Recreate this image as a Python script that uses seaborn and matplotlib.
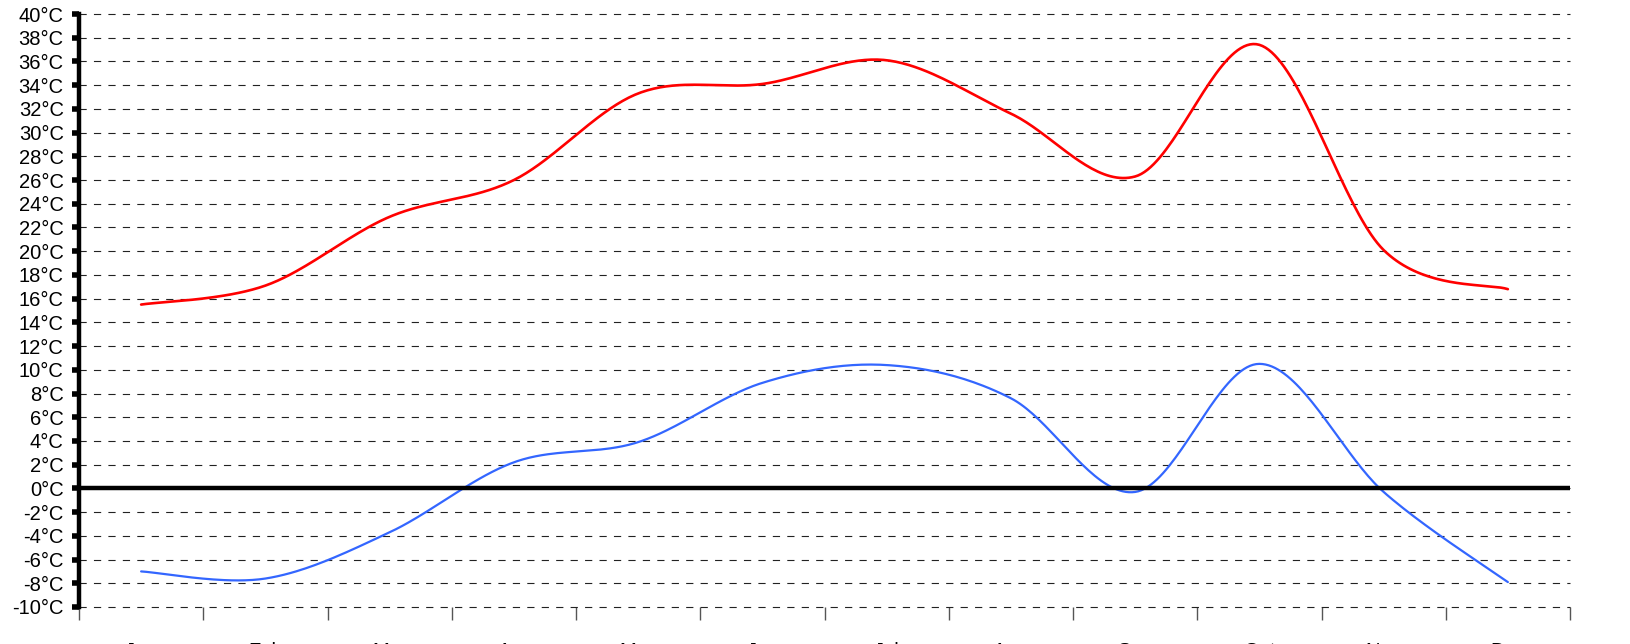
import numpy as np
import pandas as pd
import matplotlib
matplotlib.use("Agg")
import matplotlib.pyplot as plt
import seaborn as sns

# monthly values
months = ["Jan", "Feb", "Mar", "Apr", "May", "Jun",
          "Jul", "Aug", "Sep", "Oct", "Nov", "Dec"]
t_max = [15.5, 17.1, 22.9, 26.0, 33.3, 34.1, 36.1, 31.6, 26.3, 37.4, 20.1, 16.8]
t_min = [-7.0, -7.6, -3.7, 2.2, 3.9, 8.9, 10.4, 7.6, -0.3, 10.5, -0.3, -7.9]
y_ticks = list(range(-10, 41, 2))


def smooth(vals, n=40):
    # Excel-style smoothed line (Catmull-Rom between the points)
    p = np.array(vals, dtype=float)
    x = np.arange(len(p), dtype=float)
    px = np.concatenate([[x[0]], x, [x[-1]]])
    py = np.concatenate([[p[0]], p, [p[-1]]])
    xs, ys = [], []
    for i in range(1, len(px) - 2):
        t = np.linspace(0, 1, n, endpoint=False)
        for a, out in ((px, xs), (py, ys)):
            p0, p1, p2, p3 = a[i - 1], a[i], a[i + 1], a[i + 2]
            c1 = p1 + (p2 - p0) / 6
            c2 = p2 - (p3 - p1) / 6
            out.extend((1 - t) ** 3 * p1 + 3 * (1 - t) ** 2 * t * c1
                       + 3 * (1 - t) * t ** 2 * c2 + t ** 3 * p2)
    xs.append(x[-1])
    ys.append(p[-1])
    return np.array(xs), np.array(ys)


sns.set_style("white")
plt.rcParams['font.family'] = ['Liberation Sans', 'DejaVu Sans']

fig = plt.figure(figsize=(16.3, 6.44), dpi=100)
ax = fig.add_axes([79 / 1630, 1 - 607 / 644, (1570 - 79) / 1630, (607 - 14) / 644])

for vals, col, lw in ((t_max, "#ff0000", 1.9), (t_min, "#3366ff", 1.6)):
    sx, sy = smooth(vals)
    d = pd.DataFrame({"x": sx, "y": sy})
    sns.lineplot(data=d, x="x", y="y", sort=False, color=col, lw=lw, ax=ax, zorder=3)

ax.axhline(0, color="black", lw=3.2, zorder=4)

ax.set_xlim(-0.5, 11.5)
ax.set_ylim(-10, 40)
ax.set_yticks(y_ticks)
ax.set_yticklabels([f"{v}°C" for v in y_ticks], fontsize=14.5, color="black")
ax.yaxis.grid(True, ls=(0, (6.5, 6.5)), color="#222222", lw=0.8)
ax.set_axisbelow(True)

# month labels sit mostly below the visible area, as in the original
ax.set_xticks(range(len(months)))
ax.set_xticklabels(months, fontsize=14.5, color="black")
ax.set_xticks(np.arange(-0.5, 12, 1), minor=True)
ax.tick_params(axis="x", which="major", bottom=True, length=0, pad=25)
ax.tick_params(axis="x", which="minor", bottom=True, length=9.5, width=1,
               color="#555555", direction="out")
ax.tick_params(axis="y", left=True, length=5, width=4, color="black", pad=6)

for s in ("top", "right", "bottom"):
    ax.spines[s].set_visible(False)
ax.spines["left"].set_color("black")
ax.spines["left"].set_linewidth(3.2)
ax.set_xlabel("")
ax.set_ylabel("")
for g in ax.get_ygridlines():
    g.set_clip_on(False)

fig.savefig("out.png", dpi=100)
